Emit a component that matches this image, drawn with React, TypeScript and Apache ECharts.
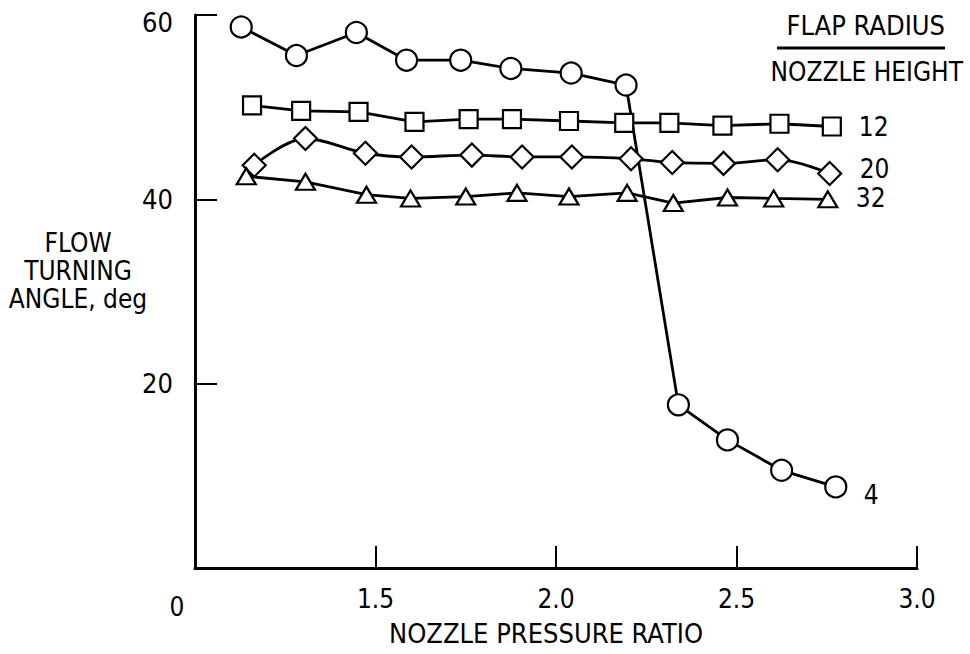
import React, { useEffect, useRef } from "react";
import * as echarts from "echarts";

const FONT = "'DejaVu Sans Condensed', 'DejaVu Sans', sans-serif";

const xTicks = [1.0, 1.5, 2.0, 2.5, 3.0];
const xTickLabels = ["0", "1.5", "2.0", "2.5", "3.0"];
const yTicks = [0, 20, 40, 60];

const seriesNames = ["4", "12", "20", "32"];

const xR4 = [1.128, 1.281, 1.447, 1.586, 1.736, 1.875, 2.042, 2.194, 2.339, 2.475, 2.625, 2.775];
const yR4 = [58.7, 55.6, 58.1, 55.1, 55.1, 54.2, 53.7, 52.4, 17.7, 13.9, 10.6, 8.8];

const xR12 = [1.158, 1.294, 1.453, 1.608, 1.758, 1.878, 2.036, 2.189, 2.314, 2.461, 2.619, 2.764];
const yR12 = [50.2, 49.6, 49.5, 48.4, 48.7, 48.7, 48.5, 48.3, 48.3, 48.0, 48.2, 47.9];

const xR20 = [1.164, 1.306, 1.472, 1.6, 1.767, 1.906, 2.044, 2.208, 2.322, 2.464, 2.614, 2.758];
const yR20 = [43.7, 46.6, 45.0, 44.6, 44.8, 44.6, 44.6, 44.4, 44.0, 43.9, 44.3, 42.8];

const xR32 = [1.142, 1.306, 1.475, 1.597, 1.75, 1.892, 2.036, 2.197, 2.325, 2.475, 2.603, 2.753];
const yR32 = [42.5, 41.9, 40.5, 40.1, 40.3, 40.7, 40.3, 40.7, 39.6, 40.2, 40.1, 40.0];

const zip = (xs: number[], ys: number[]) => xs.map((x, i) => [x, ys[i]]);

export default function App() {
  const ref = useRef<HTMLDivElement>(null);
  useEffect(() => {
    if (!ref.current) return;
    const chart = echarts.init(ref.current, null, { renderer: "svg" });
    const lineStyle = { color: "#000", width: 2.8 };
    const itemStyle = { color: "#fff", borderColor: "#000", borderWidth: 2.2 };
    const endLabel = (dx: number, dy: number) => ({
      show: true,
      formatter: "{a}",
      color: "#000",
      fontFamily: FONT,
      fontSize: 26,
      offset: [dx, dy],
    });
    const mk = (name: string, xs: number[], ys: number[], symbol: string, size: any, lab: any, smooth = false) => ({
      type: "line",
      name,
      data: zip(xs, ys),
      symbol,
      symbolSize: size,
      showAllSymbol: true,
      smooth: smooth ? 0.35 : false,
      lineStyle,
      itemStyle,
      endLabel: lab,
      z: 3,
    });
    chart.setOption({
      animation: false,
      backgroundColor: "#fff",
      grid: { left: 195, top: 15, width: 722, height: 553, outerBoundsMode: "none", containLabel: false },
      xAxis: {
        type: "value",
        min: 1.0,
        max: 3.0,
        interval: 0.5,
        axisLine: { show: true, lineStyle: { color: "#000", width: 3 } },
        axisTick: { show: true, inside: true, length: 22, lineStyle: { color: "#000", width: 2 } },
        splitLine: { show: false },
        axisLabel: {
          color: "#000",
          fontFamily: FONT,
          fontSize: 26,
          margin: 18,
          showMinLabel: true,
          showMaxLabel: true,
          formatter: (v: number) => {
            const i = xTicks.findIndex((t) => Math.abs(t - v) < 1e-6);
            const s = i >= 0 ? xTickLabels[i] : "";
            return i === 0 ? "{z|" + s + "}" : s;
          },
          rich: { z: { fontFamily: FONT, fontSize: 26, color: "#000", padding: [8, 36, 0, 0] } },
        },
        name: "NOZZLE PRESSURE RATIO",
        nameLocation: "middle",
        nameGap: 52,
        nameMoveOverlap: false,
        nameTextStyle: { color: "#000", fontFamily: FONT, fontSize: 27, padding: [0, 20, 0, 0] },
      },
      yAxis: {
        type: "value",
        min: yTicks[0],
        max: yTicks[yTicks.length - 1],
        interval: 20,
        axisLine: { show: true, lineStyle: { color: "#000", width: 3 } },
        axisTick: { show: true, inside: true, length: 22, lineStyle: { color: "#000", width: 2 } },
        splitLine: { show: false },
        axisLabel: {
          color: "#000",
          fontFamily: FONT,
          fontSize: 27,
          margin: 22,
          formatter: (v: number) => (v === 0 ? "" : v === 60 ? "{t|60}" : String(v)),
          rich: { t: { fontFamily: FONT, fontSize: 27, color: "#000", padding: [14, 0, 0, 0] } },
        },
      },
      graphic: [
        {
          type: "text",
          x: 78,
          y: 271,
          style: {
            text: "FLOW\nTURNING\nANGLE, deg",
            fill: "#000",
            font: "26px " + FONT,
            lineHeight: 28,
            textAlign: "center",
            textVerticalAlign: "middle",
          },
        },
        {
          type: "text",
          right: 25,
          top: 12,
          style: { text: "FLAP RADIUS", fill: "#000", font: "27px " + FONT },
        },
        {
          type: "line",
          shape: { x1: 777, y1: 48, x2: 945, y2: 48 },
          style: { stroke: "#000", lineWidth: 3 },
        },
        {
          type: "text",
          right: 7,
          top: 59,
          style: { text: "NOZZLE HEIGHT", fill: "#000", font: "26px " + FONT },
        },
      ],
      series: [
        mk(seriesNames[0], xR4, yR4, "circle", 21, endLabel(20, 8)),
        mk(seriesNames[1], xR12, yR12, "rect", 18, endLabel(19, 0)),
        mk(seriesNames[2], xR20, yR20, "diamond", 23, endLabel(22, -5), true),
        mk(seriesNames[3], xR32, yR32, "triangle", [19, 16], endLabel(20, -1)),
      ],
    });
    return () => chart.dispose();
  }, []);
  return <div ref={ref} style={{ position: "fixed", left: 0, top: 0, width: 970, height: 654 }} />;
}
